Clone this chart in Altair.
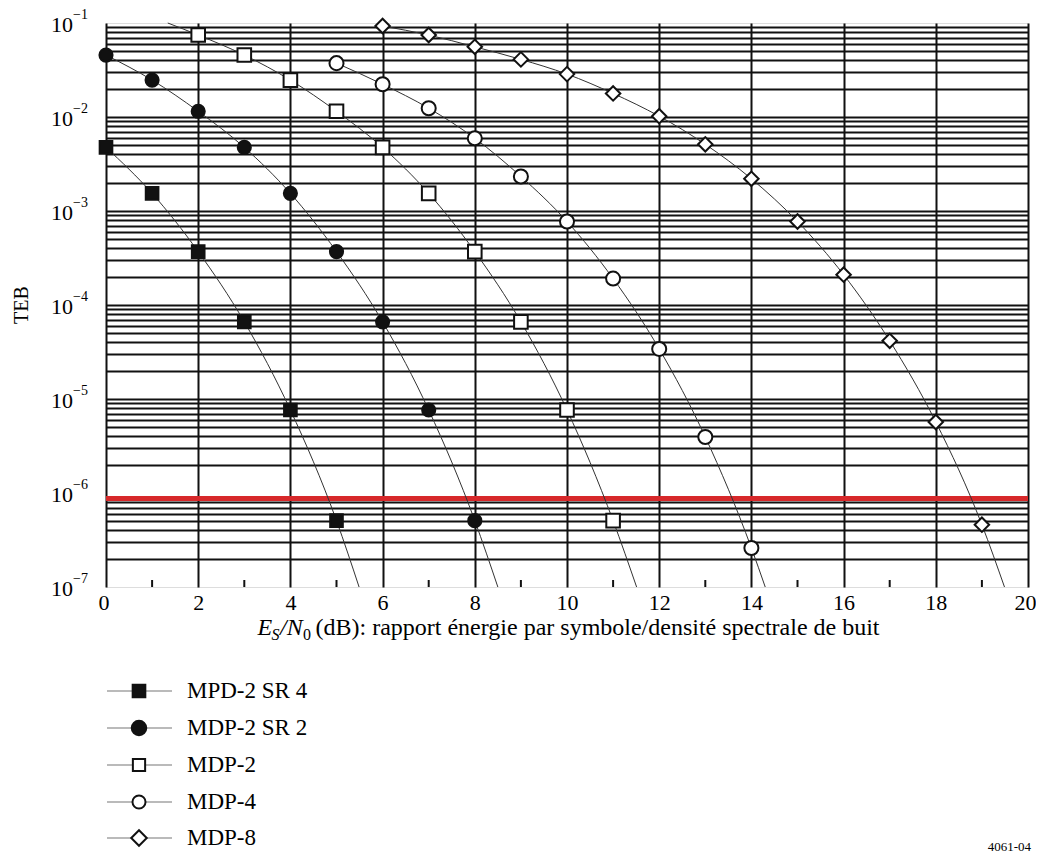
import altair as alt
import pandas as pd

# ---------------- data ----------------
names = ["MPD-2 SR 4", "MDP-2 SR 2", "MDP-2", "MDP-4", "MDP-8"]

mpd2sr4_x = [0, 1, 2, 3, 4, 5]
mpd2sr4_y = [4.75e-3, 1.54e-3, 3.70e-4, 6.62e-5, 7.64e-6, 5.08e-7]

mdp2sr2_x = [0, 1, 2, 3, 4, 5, 6, 7, 8]
mdp2sr2_y = [4.56e-2, 2.47e-2, 1.15e-2, 4.75e-3, 1.54e-3, 3.70e-4, 6.62e-5, 7.64e-6, 5.08e-7]

mdp2_x = [2, 3, 4, 5, 6, 7, 8, 9, 10, 11]
mdp2_y = [7.45e-2, 4.56e-2, 2.47e-2, 1.15e-2, 4.75e-3, 1.54e-3, 3.70e-4, 6.62e-5, 7.64e-6, 5.08e-7]

mdp4_x = [5, 6, 7, 8, 9, 10, 11, 12, 13, 14]
mdp4_y = [3.74e-2, 2.23e-2, 1.24e-2, 5.93e-3, 2.33e-3, 7.73e-4, 1.91e-4, 3.41e-5, 3.94e-6, 2.6e-7]

mdp8_x = [6, 7, 8, 9, 10, 11, 12, 13, 14, 15, 16, 17, 18, 19]
mdp8_y = [9.29e-2, 7.45e-2, 5.58e-2, 4.10e-2, 2.86e-2, 1.78e-2, 1.02e-2, 5.12e-3,
          2.20e-3, 7.73e-4, 2.10e-4, 4.16e-5, 5.69e-6, 4.6e-7]

# where each curve meets the frame
edge_serie = ["MPD-2 SR 4", "MDP-2 SR 2", "MDP-2", "MDP-2", "MDP-4", "MDP-8"]
edge_x = [5.49, 8.50, 1.34, 11.51, 14.30, 19.49]
edge_y = [1e-7, 1e-7, 1e-1, 1e-7, 1e-7, 1e-7]

red_level = [8.75e-7]

x_labels = [0, 2, 4, 6, 8, 10, 12, 14, 16, 18, 20]
x_minor_ticks = [1, 3, 5, 7, 9, 11, 13, 15, 17, 19]
y_exponents = [-1, -2, -3, -4, -5, -6, -7]
y_grid = [m * 10.0 ** e for e in range(-7, -1) for m in range(1, 10)
          if not (m == 1 and e in (-7, -6))]

shapes = ["square", "circle", "square", "circle", "diamond"]
fills = ["#111111", "#111111", "white", "white", "white"]
sizes = [160, 210, 150, 170, 240]

# ---------------- tables ----------------
series = [(names[0], mpd2sr4_x, mpd2sr4_y), (names[1], mdp2sr2_x, mdp2sr2_y),
          (names[2], mdp2_x, mdp2_y), (names[3], mdp4_x, mdp4_y), (names[4], mdp8_x, mdp8_y)]
pts = pd.DataFrame([{"serie": n, "x": x, "teb": y}
                    for n, xs, ys in series for x, y in zip(xs, ys)])
edges = pd.DataFrame({"serie": edge_serie, "x": edge_x, "teb": edge_y})
lines = pd.concat([pts, edges]).sort_values(["serie", "x"]).reset_index(drop=True)

FONT = "Liberation Serif"
W, H = 922, 564

xscale = alt.Scale(domain=[0, 20], nice=False, zero=False)
yscale = alt.Scale(type="log", domain=[1e-7, 1e-1], nice=False)
xaxis = alt.Axis(values=x_labels, grid=True, gridColor="#111111", gridWidth=2,
                 ticks=False, domain=False, labelFont=FONT, labelFontSize=22,
                 labelColor="black", labelPadding=5, labelFlush=True,
                 labelFlushOffset=8, title=None)
yaxis = alt.Axis(values=y_grid, grid=True, gridColor="#111111", gridWidth=2,
                 ticks=False, domain=False, labels=False, title=None)


def X(field="x"):
    return alt.X(f"{field}:Q", scale=xscale, axis=xaxis)


def Y(field="teb"):
    return alt.Y(f"{field}:Q", scale=yscale, axis=yaxis)


red = alt.Chart(pd.DataFrame({"teb": red_level})).mark_rule(
    color="#d7282a", strokeWidth=5).encode(y=Y())

curves = alt.Chart(lines).mark_line(
    interpolate="monotone", color="#333333", strokeWidth=1).encode(
    x=X(), y=Y(), detail="serie:N", order="x:Q")

markers = alt.Chart(pts).mark_point(
    opacity=1, fillOpacity=1, stroke="#111111", strokeWidth=2).encode(
    x=X(), y=Y(),
    shape=alt.Shape("serie:N", scale=alt.Scale(domain=names, range=shapes), legend=None),
    fill=alt.Fill("serie:N", scale=alt.Scale(domain=names, range=fills), legend=None),
    size=alt.Size("serie:N", scale=alt.Scale(domain=names, range=sizes), legend=None))

ticks = alt.Chart(pd.DataFrame({"x": x_minor_ticks})).mark_rule(
    color="#111111", strokeWidth=2).encode(x=X(), y=alt.value(H), y2=alt.value(H - 7))

ylab_df = pd.DataFrame({"teb": [10.0 ** e for e in y_exponents],
                        "exp": ["\u2212" + str(-e) for e in y_exponents]})
ylab10 = alt.Chart(ylab_df).mark_text(
    font=FONT, fontSize=22, align="right", baseline="middle", dy=2, color="black").encode(
    y=Y(), x=alt.value(-33), text=alt.value("10"))
ylabexp = alt.Chart(ylab_df).mark_text(
    font=FONT, fontSize=14, align="left", baseline="middle", dy=-8, color="black").encode(
    y=Y(), x=alt.value(-33), text="exp:N")

one = pd.DataFrame({"a": [0]})


def label(txt, x, y, size=24, style="normal", align="left", baseline="alphabetic", angle=0):
    return alt.Chart(one).mark_text(
        font=FONT, fontSize=size, fontStyle=style, align=align, baseline=baseline,
        angle=angle, color="black").encode(
        x=alt.value(x), y=alt.value(y), text=alt.value(txt))


TY = 612
title_parts = [
    label("E", 151.5, TY, style="italic"),
    label("S", 165.5, TY + 5, size=16, style="italic"),
    label("/N", 174, TY, style="italic"),
    label("0", 197, TY + 5, size=16),
    label("(dB): rapport énergie par symbole/densité spectrale de buit", 209.5, TY),
]

yt = label("TEB", -84, H / 2, size=20, align="center", baseline="middle", angle=270)
fig_id = label("4061-04", 925, 818, size=13, align="right", baseline="top")

legend_layers = []
leg_y = [668, 705, 742, 779, 815]
for i, n in enumerate(names):
    d = pd.DataFrame({"serie": [n]})
    legend_layers.append(alt.Chart(d).mark_rule(color="#777777", strokeWidth=1.2).encode(
        x=alt.value(1), x2=alt.value(66), y=alt.value(leg_y[i])))
    legend_layers.append(alt.Chart(d).mark_point(
        opacity=1, fillOpacity=1, stroke="#111111", strokeWidth=2,
        shape=shapes[i], fill=fills[i], size=sizes[i]).encode(
        x=alt.value(33), y=alt.value(leg_y[i])))
    legend_layers.append(alt.Chart(d).mark_text(
        font=FONT, fontSize=23, align="left", baseline="middle", color="black").encode(
        x=alt.value(81), y=alt.value(leg_y[i]), text="serie:N"))

chart = alt.layer(
    red, curves, markers, ticks, ylab10, ylabexp, *title_parts, yt, fig_id, *legend_layers
).properties(
    width=W, height=H,
    autosize=alt.AutoSizeParams(type="none"),
    padding={"left": 98, "top": 15, "right": 8, "bottom": 267},
).configure_view(stroke="#111111", strokeWidth=2).configure(background="white")

chart.save("out.html", embed_options={"renderer": "svg", "actions": False})
